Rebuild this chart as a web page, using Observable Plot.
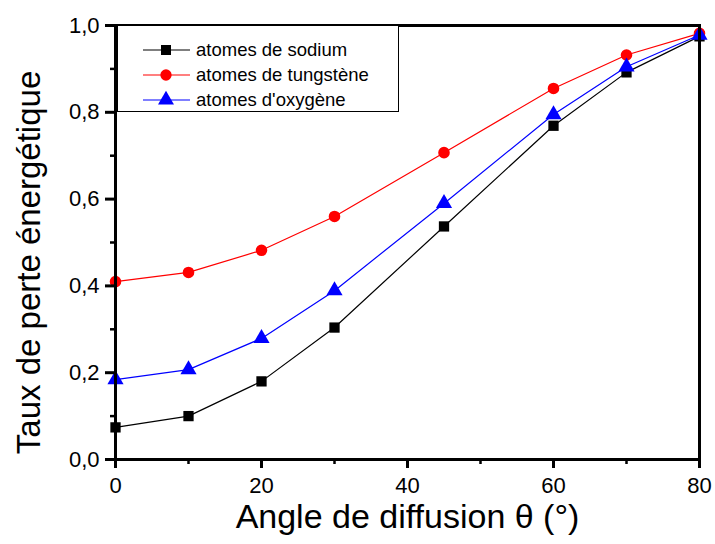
<!DOCTYPE html>
<html>
<head>
<meta charset="utf-8">
<script src="https://cdn.jsdelivr.net/npm/d3@7"></script>
<script src="https://cdn.jsdelivr.net/npm/@observablehq/plot@0.6"></script>
<style>
  body { margin: 0; background: white; }
  #chart { width: 715px; height: 544px; }
</style>
</head>
<body>
<div id="chart"></div>
<script>
const angles = [0, 10, 20, 30, 45, 60, 70, 80];
const sodium = [0.074, 0.100, 0.180, 0.304, 0.537, 0.769, 0.892, 0.975];
const tungstene = [0.410, 0.431, 0.482, 0.560, 0.707, 0.855, 0.932, 0.982];
const oxygene = [0.184, 0.207, 0.279, 0.389, 0.590, 0.795, 0.905, 0.978];
const seriesNames = ["atomes de sodium", "atomes de tungstène", "atomes d'oxygène"];
const seriesColors = ["#000000", "#ff0000", "#0000ff"];
const seriesSymbols = ["square", "circle", "triangle"];
const xMajor = [0, 20, 40, 60, 80];
const xMinor = [10, 30, 50, 70];
const yMajor = [0, 0.2, 0.4, 0.6, 0.8, 1.0];
const yMinor = [0.1, 0.3, 0.5, 0.7, 0.9];
const xTitle = "Angle de diffusion θ (°)";
const yTitle = "Taux de perte énergétique";

const allSeries = [sodium, tungstene, oxygene];
const rows = [];
allSeries.forEach((vals, i) => vals.forEach((v, j) => rows.push({angle: angles[j], value: v, series: seriesNames[i]})));

const fmt = d => d3.format(".1f")(d).replace(".", ",");
const font = "'Liberation Sans', Arial, sans-serif";

const seriesMarks = [];
seriesNames.forEach((name, i) => {
  const data = rows.filter(r => r.series === name);
  seriesMarks.push(Plot.line(data, {x: "angle", y: "value", stroke: seriesColors[i], strokeWidth: 1.2}));
});
seriesNames.forEach((name, i) => {
  const data = rows.filter(r => r.series === name);
  seriesMarks.push(Plot.dot(data, {x: "angle", y: "value", fill: seriesColors[i], stroke: "none",
    symbol: () => seriesSymbols[i], r: i === 2 ? 6 : 5.8}));
});

const chart = Plot.plot({
  width: 715,
  height: 544,
  marginLeft: 115,
  marginRight: 16,
  marginTop: 25,
  marginBottom: 85,
  style: {fontFamily: font, fontSize: "22px", color: "black", background: "white", overflow: "visible"},
  x: {domain: [0, 80]},
  y: {domain: [0, 1]},
  symbol: {type: "identity"},
  marks: [
    ...seriesMarks,
    Plot.frame({stroke: "black", strokeWidth: 3}),
    Plot.axisX({ticks: xMajor, tickSize: 9, strokeWidth: 3, tickPadding: 9, fontSize: 22, label: null, tickFormat: d => String(d)}),
    Plot.axisX({ticks: xMinor, tickSize: 5, strokeWidth: 2.5, tickFormat: () => "", label: null}),
    Plot.axisY({ticks: yMajor, tickSize: 10, strokeWidth: 3, tickPadding: 6, fontSize: 22, label: null, tickFormat: fmt}),
    Plot.axisY({ticks: yMinor, tickSize: 5, strokeWidth: 2.5, tickFormat: () => "", label: null}),
    Plot.text([xTitle], {frameAnchor: "bottom", dy: 68, text: d => d, fontSize: 34, fill: "black", textAnchor: "middle"}),
    Plot.text([yTitle], {frameAnchor: "left", dx: -86, dy: 20, rotate: -90, text: d => d, fontSize: 33, fill: "black", textAnchor: "middle"})
  ]
});
document.getElementById("chart").appendChild(chart);

// legend
const svg = d3.select(chart);
const lg = svg.append("g").style("font-family", font).style("font-size", "18.5px").attr("text-anchor", "start");
lg.append("rect").attr("x", 117.5).attr("y", 25.5).attr("width", 281).attr("height", 86)
  .attr("fill", "white").attr("stroke", "black").attr("stroke-width", 1);
seriesNames.forEach((name, i) => {
  const cy = 50 + i * 25;
  lg.append("line").attr("x1", 143).attr("x2", 190).attr("y1", cy).attr("y2", cy)
    .attr("stroke", seriesColors[i]).attr("stroke-width", 1.2);
  const sym = {square: d3.symbolSquare, circle: d3.symbolCircle, triangle: d3.symbolTriangle}[seriesSymbols[i]];
  const size = i === 2 ? 110 : 100;
  lg.append("path").attr("d", d3.symbol(sym, size)()).attr("transform", `translate(166,${cy})`)
    .attr("fill", seriesColors[i]);
  lg.append("text").attr("x", 196).attr("y", cy).attr("dy", "0.35em").attr("fill", "black").text(name);
});
</script>
</body>
</html>
